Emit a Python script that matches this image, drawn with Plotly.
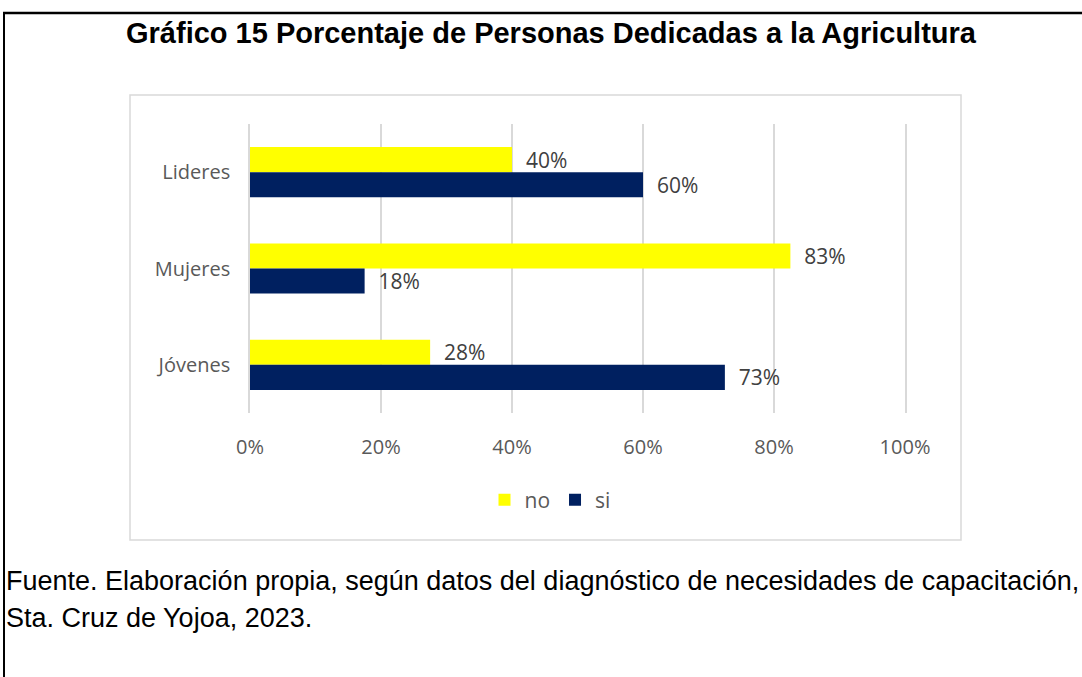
import plotly.graph_objects as go

categories = ["Lideres", "Mujeres", "Jóvenes"]
series_names = ["no", "si"]
no_values = [0.40, 0.825, 0.275]
si_values = [0.60, 0.175, 0.725]
no_labels = ["40%", "83%", "28%"]
si_labels = ["60%", "18%", "73%"]
x_ticks = [0, 0.2, 0.4, 0.6, 0.8, 1.0]
x_tick_labels = ["0%", "20%", "40%", "60%", "80%", "100%"]

title = "Gráfico 15 Porcentaje de Personas Dedicadas a la Agricultura"
source_line1 = "Fuente. Elaboración propia, según datos del diagnóstico de necesidades de capacitación,"
source_line2 = "Sta. Cruz de Yojoa, 2023."

W, H = 1082, 677
L, R, T, B = 250, 905, 124, 413  # plot area in pixels


def px_x(p):
    return (p - L) / (R - L)


def px_y(p):
    return (B - p) / (B - T)


pad = "\u00a0\u00a0"
fig = go.Figure()
fig.add_trace(go.Bar(y=categories, x=no_values, name=series_names[0], orientation="h",
                     marker=dict(color="#FFFF00", line=dict(width=0)),
                     text=[pad + t for t in no_labels], textposition="outside", constraintext="none",
                     textfont=dict(color="#404040", size=21), cliponaxis=False))
fig.add_trace(go.Bar(y=categories, x=si_values, name=series_names[1], orientation="h",
                     marker=dict(color="#002060", line=dict(width=0)),
                     text=[pad + t for t in si_labels], textposition="outside", constraintext="none",
                     textfont=dict(color="#404040", size=21), cliponaxis=False))

shapes = [
    # chart area box
    dict(type="rect", xref="paper", yref="paper", x0=px_x(130), x1=px_x(961), y0=px_y(540), y1=px_y(95),
         line=dict(color="#d9d9d9", width=1.5), layer="below"),
    # outer frame lines
    dict(type="line", xref="paper", yref="paper", x0=px_x(3), x1=px_x(1082), y0=px_y(13), y1=px_y(13),
         line=dict(color="black", width=2.5)),
    dict(type="line", xref="paper", yref="paper", x0=px_x(4), x1=px_x(4), y0=px_y(12), y1=px_y(677),
         line=dict(color="black", width=2)),
]

annotations = [
    dict(text="<b>" + title + "</b>", xref="paper", yref="paper",
         x=px_x(551), y=px_y(33), xanchor="center", yanchor="middle", showarrow=False,
         font=dict(family="Liberation Sans, Arial", size=29, color="black")),
    dict(text=source_line1,
         xref="paper", yref="paper", x=px_x(4), y=px_y(581), xanchor="left", yanchor="middle", showarrow=False,
         font=dict(family="Liberation Sans, Arial", size=27, color="black")),
    dict(text=source_line2,
         xref="paper", yref="paper", x=px_x(4), y=px_y(618), xanchor="left", yanchor="middle", showarrow=False,
         font=dict(family="Liberation Sans, Arial", size=27, color="black")),
]

fig.update_layout(
    width=W, height=H,
    margin=dict(l=L, r=W - R, t=T, b=H - B),
    paper_bgcolor="white", plot_bgcolor="white",
    barmode="group", bargap=0.48, bargroupgap=0,
    font=dict(family="Open Sans, sans-serif", color="#595959"),
    xaxis=dict(range=[0, 1], tickvals=x_ticks, ticktext=x_tick_labels, showgrid=True,
               gridcolor="#d9d9d9", gridwidth=1.5, zeroline=False, showline=False,
               tickfont=dict(size=20, color="#595959"), ticks="", ticklabelstandoff=20),
    yaxis=dict(autorange="reversed", showgrid=False, zeroline=False,
               showline=True, mirror=True, linecolor="#d9d9d9", linewidth=1.5,
               tickfont=dict(size=20, color="#595959"), ticks="", ticklabelstandoff=14),
    legend=dict(orientation="h", x=px_x(550), xanchor="center", y=px_y(500), yanchor="middle",
                font=dict(size=21, color="#595959"), traceorder="normal", itemwidth=30),
    shapes=shapes,
    annotations=annotations,
)

fig.write_html("out.html", config={"displayModeBar": False},
               post_script="document.body.style.margin='0';")
